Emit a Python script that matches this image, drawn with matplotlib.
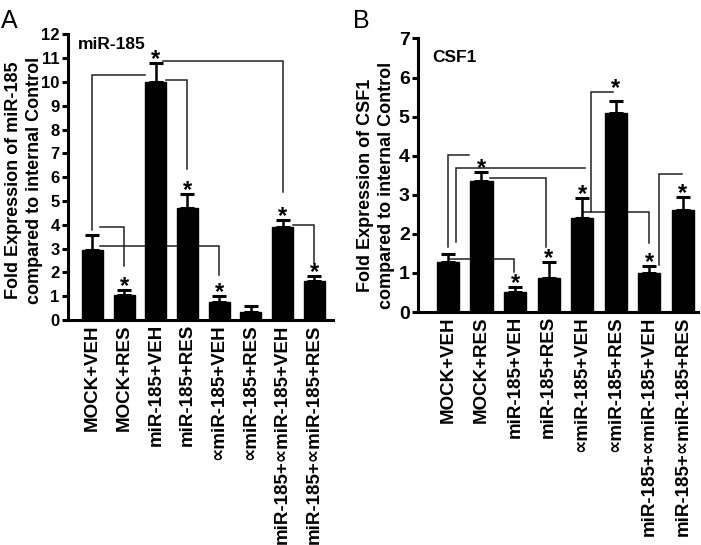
import matplotlib
matplotlib.use('Agg')
import matplotlib.pyplot as plt
import numpy as np

plt.rcParams['font.family'] = ['Liberation Sans', 'DejaVu Sans']
plt.rcParams['font.weight'] = 'bold'

# group labels (same for both panels)
groups = ['MOCK+VEH', 'MOCK+RES', 'miR-185+VEH', 'miR-185+RES',
          '\u221dmiR-185+VEH', '\u221dmiR-185+RES',
          'miR-185+\u221dmiR-185+VEH', 'miR-185+\u221dmiR-185+RES']

# panel A: miR-185
mir_vals = [2.93, 1.06, 10.0, 4.72, 0.75, 0.33, 3.92, 1.62]
mir_err = [0.64, 0.21, 0.80, 0.56, 0.26, 0.26, 0.28, 0.24]
mir_stars = [0, 1, 1, 1, 1, 0, 1, 1]
# comparison brackets: polylines (bar index, fold value)
mir_brackets = [
    [(0, 3.8), (0, 10.28), (1.65, 10.28)],
    [(2.32, 10.1), (3, 10.1), (3, 6.34)],
    [(2.22, 10.89), (6.0, 10.89), (6.0, 5.36)],
    [(0.24, 3.89), (1, 3.89), (1, 2.25)],
    [(0.24, 3.13), (4, 3.13), (4, 1.9)],
    [(6.32, 4.01), (7, 4.01), (7, 2.41)],
]

# panel B: CSF1
csf_vals = [1.27, 3.35, 0.51, 0.88, 2.41, 5.08, 0.99, 2.60]
csf_err = [0.21, 0.23, 0.13, 0.41, 0.51, 0.31, 0.20, 0.34]
csf_stars = [0, 1, 1, 1, 1, 1, 1, 1]
csf_brackets = [
    [(0, 1.67), (0, 4.01), (0.63, 4.01)],
    [(0.24, 1.8), (0.24, 3.68), (4.08, 3.68)],
    [(1.26, 3.44), (2.92, 3.44), (2.92, 1.67)],
    [(0.07, 1.36), (1.97, 1.36), (1.97, 1.03)],
    [(4.02, 2.57), (5.99, 2.57), (5.99, 1.77)],
    [(4.26, 2.57), (4.26, 5.63), (4.92, 5.63)],
    [(6.29, 1.21), (6.29, 3.52), (6.97, 3.52)],
]
csf_star_over = {5: 5}  # bar 5 star sits above bracket 5


def draw_panel(ax, vals, err, stars, brackets, ymax, xlim, tick_size,
               title, title_xy, star_over=None):
    x = np.arange(len(vals))
    ax.bar(x, vals, width=0.66, color='black', edgecolor='black', zorder=2)
    ax.errorbar(x, vals, yerr=[np.zeros(len(err)), err], fmt='none',
                ecolor='black', elinewidth=1.8, capsize=4.7, capthick=2.2,
                zorder=3)
    for br in brackets:
        bx, by = zip(*br)
        ax.plot(bx, by, color='#222222', lw=1.1, zorder=1,
                solid_joinstyle='miter')
    star_over = star_over or {}
    for i, s in enumerate(stars):
        if not s:
            continue
        base = vals[i] + err[i]
        if i in star_over:
            base = brackets[star_over[i]][-1][1]
        ax.annotate('*', (i, base), xytext=(0, 2.5), textcoords='offset points',
                    ha='center', va='center', fontsize=17, fontweight='bold')
    ax.set_xlim(*xlim)
    ax.set_ylim(0, ymax)
    ax.set_yticks(range(0, ymax + 1))
    ax.set_xticks(x)
    ax.set_xticklabels(groups, rotation=90, fontsize=13.5, fontweight='bold')
    for lab in ax.get_yticklabels():
        lab.set_fontsize(tick_size)
        lab.set_fontweight('bold')
    ax.tick_params(axis='x', length=0, pad=3)
    ax.tick_params(axis='y', length=4.5, width=2.2, pad=1.5, direction='out')
    for side in ['top', 'right']:
        ax.spines[side].set_visible(False)
    for side in ['left', 'bottom']:
        ax.spines[side].set_linewidth(2.2)
    ax.text(title_xy[0], title_xy[1], title, ha='left', va='baseline',
            fontsize=12.5, fontweight='bold')


fig = plt.figure(figsize=(7.01, 5.45), dpi=100)
axA = fig.add_axes([0.0970, 0.4128, 0.378, 0.524])
axB = fig.add_axes([0.5963, 0.4275, 0.3994, 0.502])

draw_panel(axA, mir_vals, mir_err, mir_stars, mir_brackets, 12,
           (-0.77, 7.59), 12, 'miR-185', (-0.46, 11.4))
draw_panel(axB, csf_vals, csf_err, csf_stars, csf_brackets, 7,
           (-0.89, 7.45), 14, 'CSF1', (-0.47, 6.39),
           star_over=csf_star_over)

fig.text(0.034, 0.669, 'Fold Expression of miR-185\ncompared to internal Control',
         rotation=90, ha='center', va='center', fontsize=13, fontweight='bold',
         linespacing=1.3)
fig.text(0.536, 0.659, 'Fold Expression of CSF1\ncompared to internal Control',
         rotation=90, ha='center', va='center', fontsize=13, fontweight='bold',
         linespacing=1.3)

fig.text(0.002, 0.962, 'A', ha='left', va='center', fontsize=18,
         fontweight='normal')
fig.text(0.503, 0.962, 'B', ha='left', va='center', fontsize=18,
         fontweight='normal')

fig.savefig('out.png', dpi=100)
